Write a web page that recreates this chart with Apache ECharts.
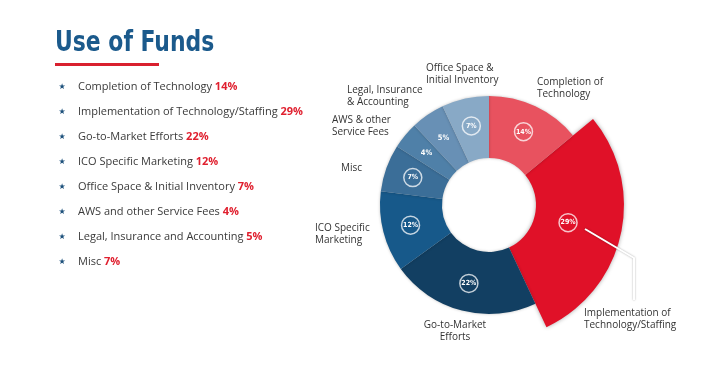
<!DOCTYPE html>
<html>
<head>
<meta charset="utf-8">
<script src="https://cdn.jsdelivr.net/npm/echarts@6/dist/echarts.min.js"></script>
<style>
html,body{margin:0;padding:0;background:#fff;}
#chart{width:718px;height:385px;}
</style>
</head>
<body>
<div id="chart"></div>
<script>
// ---- data ----
const categories = ['Completion of Technology', 'Implementation of Technology/Staffing', 'Go-to-Market Efforts', 'ICO Specific Marketing', 'Misc', 'AWS & other Service Fees', 'Legal, Insurance & Accounting', 'Office Space & Initial Inventory'];
const values = [14, 29, 22, 12, 7, 4, 5, 7];
const sliceLabels = ['Completion of\nTechnology', 'Implementation of\nTechnology/Staffing', 'Go-to-Market\nEfforts', 'ICO Specific\nMarketing', 'Misc', 'AWS & other\nService Fees', 'Legal, Insurance\n& Accounting', 'Office Space &\nInitial Inventory'];
const listItems = ['Completion of Technology', 'Implementation of Technology/Staffing', 'Go-to-Market Efforts', 'ICO Specific Marketing', 'Office Space & Initial Inventory', 'AWS and other Service Fees', 'Legal, Insurance and Accounting', 'Misc'];
const listValues = [14, 29, 22, 12, 7, 4, 5, 7];
const circled = [true, true, true, true, true, false, false, true];
const highlightIndex = 1;

// ---- styles / layout ----
const colors = ['#e8525f', '#e01128', '#123f62', '#17598a', '#3b6e98', '#4f80a8', '#6890b5', '#88a9c6'];
const labelPos = [[537, 82, 'left'], [584, 313, 'left'], [455, 325, 'center'], [315, 228, 'left'], [341, 168, 'left'], [332, 120, 'left'], [347, 90, 'left'], [426, 68, 'left']];
const cx = 489, cy = 205;
const textFont = '"Open Sans", "DejaVu Sans", sans-serif';
const pctFont = '"DejaVu Sans Condensed", sans-serif';

const chart = echarts.init(document.getElementById('chart'));

const baseData = categories.map((n, i) => ({
  name: n,
  value: values[i],
  itemStyle: i === highlightIndex ? { color: 'rgba(0,0,0,0)', shadowBlur: 0, shadowColor: 'rgba(0,0,0,0)' } : { color: colors[i] },
  label: { formatter: circled[i] ? '{c|' + values[i] + '%}' : '{p|' + values[i] + '%}' }
}));
const bigData = categories.map((n, i) => ({
  name: n,
  value: values[i],
  itemStyle: { color: i === highlightIndex ? colors[i] : 'rgba(0,0,0,0)', shadowBlur: i === highlightIndex ? 4 : 0, shadowColor: i === highlightIndex ? 'rgba(0,0,0,0.35)' : 'rgba(0,0,0,0)' }
}));

const graphics = [];
graphics.push({
  type: 'text', x: 55, y: 30, scaleX: 0.87,
  style: { text: 'Use of Funds', font: 'bold 28px "DejaVu Sans Condensed", sans-serif', fill: '#1b5a8c', verticalAlign: 'top' }
});
graphics.push({ type: 'rect', shape: { x: 55, y: 63, width: 104, height: 3 }, style: { fill: '#d9202e' } });
listItems.forEach((t, i) => {
  const y = 87 + i * 25;
  graphics.push({
    type: 'text', x: 62, y: y,
    style: { text: '\u2605', font: '8px "DejaVu Sans", sans-serif', fill: '#1b4f7a', align: 'center', verticalAlign: 'middle' }
  });
  graphics.push({
    type: 'text', x: 78, y: y,
    style: {
      text: t + ' {p|' + listValues[i] + '%}',
      font: '11px ' + textFont, fill: '#3a3a3a', verticalAlign: 'middle',
      rich: { p: { fontFamily: 'Open Sans, sans-serif', fontSize: 11, fontWeight: 'bold', fill: '#e0202f', color: '#e0202f' } }
    }
  });
});
sliceLabels.forEach((t, i) => {
  const p = labelPos[i];
  graphics.push({
    type: 'text', x: p[0], y: p[1] - 6,
    style: { text: t, font: '10px ' + textFont, fill: '#333', align: p[2], verticalAlign: 'top', lineHeight: 12 }
  });
});
graphics.push({
  type: 'polyline', z: 10,
  shape: { points: [[cx + 96, cy + 24], [cx + 145, cy + 53], [cx + 145, cy + 95]] },
  style: { stroke: '#ffffff', lineWidth: 2, fill: null, shadowBlur: 2, shadowColor: 'rgba(0,0,0,0.35)' }
});

chart.setOption({
  animation: false,
  graphic: graphics,
  series: [
    {
      type: 'pie', z: 1, silent: true,
      center: [cx, cy], radius: [47, 135], startAngle: 90, clockwise: true, padAngle: 0,
      itemStyle: { borderWidth: 0 },
      label: { show: false }, labelLine: { show: false },
      data: bigData
    },
    {
      type: 'pie', z: 2, silent: true,
      center: [cx, cy], radius: [47, 109], startAngle: 90, clockwise: true, padAngle: 0,
      itemStyle: { borderWidth: 0, shadowBlur: 3, shadowColor: 'rgba(0,0,0,0.25)' },
      labelLine: { show: false },
      label: {
        show: true, position: 'inside',
        rich: {
          c: { width: 18, height: 18, lineHeight: 18, align: 'center', borderRadius: 11, borderWidth: 1.5, borderColor: 'rgba(255,255,255,0.75)', color: '#fff', fontSize: 7, fontWeight: 'bold', fontFamily: pctFont },
          p: { color: '#fff', fontSize: 7.5, fontWeight: 'bold', fontFamily: pctFont }
        }
      },
      data: baseData
    }
  ]
});
</script>
</body>
</html>
